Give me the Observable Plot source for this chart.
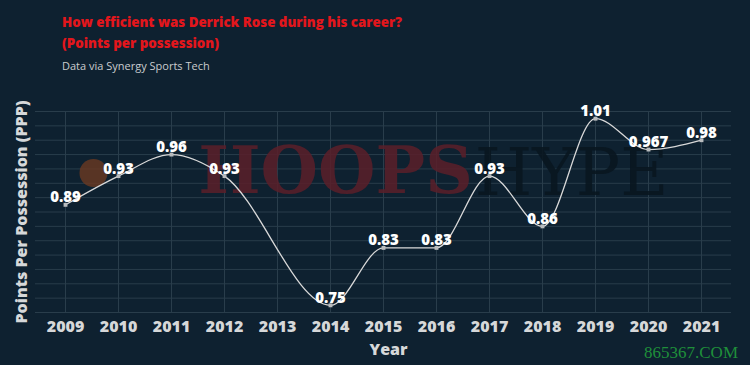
<!DOCTYPE html>
<html>
<head>
<meta charset="utf-8">
<script src="https://cdn.jsdelivr.net/npm/d3@7"></script>
<script src="https://cdn.jsdelivr.net/npm/@observablehq/plot@0.6"></script>
<style>
  html, body { margin: 0; padding: 0; background: #0e2130; }
  #wrap { position: relative; width: 750px; height: 365px; overflow: hidden; background: #0e2130; font-family: "Open Sans", sans-serif; }
  #title { position: absolute; left: 62px; top: 12px; color: #e3161c; font-weight: 800; font-size: 13.3px; line-height: 21px; }
  #subtitle { position: absolute; left: 62px; top: 58px; color: #c9ccce; font-size: 11px; line-height: 16px; }
  #chart { position: absolute; left: 0; top: 80px; }
  #wm { position: absolute; right: 12px; bottom: 2px; color: #1f8f3a; font-family: "Liberation Serif", serif; font-size: 17px; }
</style>
</head>
<body>
<div id="wrap">
  <div id="title">How efficient was Derrick Rose during his career?<br>(Points per possession)</div>
  <div id="subtitle">Data via Synergy Sports Tech</div>
  <div id="chart"></div>
  <div id="wm">865367.COM</div>
</div>
<script>
const years = [2009, 2010, 2011, 2012, 2013, 2014, 2015, 2016, 2017, 2018, 2019, 2020, 2021];
const labelYears = [2009, 2010, 2011, 2012, 2014, 2015, 2016, 2017, 2018, 2019, 2020, 2021];
const ppp = [0.89, 0.93, 0.96, 0.93, 0.75, 0.83, 0.83, 0.93, 0.86, 1.01, 0.967, 0.98];
const pppLabels = ["0.89", "0.93", "0.96", "0.93", "0.75", "0.83", "0.83", "0.93", "0.86", "1.01", "0.967", "0.98"];
const yGrid = [0.74, 0.76, 0.78, 0.80, 0.82, 0.84, 0.86, 0.88, 0.90, 0.92, 0.94, 0.96, 0.98, 1.00, 1.02];

const data = labelYears.map((y, i) => ({year: y, ppp: ppp[i], label: pppLabels[i]}));

const chart = Plot.plot({
  width: 750,
  height: 285,
  marginTop: 31,
  marginBottom: 53,
  marginLeft: 35,
  marginRight: 19,
  style: {background: "transparent", fontFamily: "Open Sans, sans-serif"},
  x: {type: "point", domain: years, padding: 0.5},
  y: {domain: [0.74, 1.02]},
  marks: [
    Plot.gridY(yGrid, {stroke: "#293d4b", strokeOpacity: 1, strokeWidth: 1}),
    Plot.gridX(years, {stroke: "#293d4b", strokeOpacity: 1, strokeWidth: 1}),
    // watermark
    Plot.dot([0], {frameAnchor: "middle", dx: -290, dy: -39, r: 14, fill: "#6b3a22", fillOpacity: 0.8}),
    Plot.text(["HOOPS"], {frameAnchor: "middle", dx: -48, dy: -40, fontSize: 66, fontWeight: "bold", fontFamily: "DejaVu Serif", fill: "#5a1f29", fillOpacity: 0.85}),
    Plot.text(["HYPE"], {frameAnchor: "middle", dx: 188, dy: -38, fontSize: 66, fontFamily: "DejaVu Serif", fill: "#091620", fillOpacity: 0.9}),
    Plot.axisX({tickSize: 0, tickPadding: 8, fontSize: 16, fontWeight: 800, color: "#d6d8d9", label: null, tickFormat: d => String(d)}),
    Plot.axisY({ticks: [], label: null, tickSize: 0}),
    Plot.text(["Year"], {frameAnchor: "bottom", dx: 5, dy: 37, fontSize: 16, fontWeight: 800, fill: "#d6d8d9", lineAnchor: "middle"}),
    Plot.text(["Points Per Possession (PPP)"], {frameAnchor: "left", dx: -14, rotate: -90, fontSize: 16, fontWeight: 800, fill: "#d6d8d9", textAnchor: "middle", lineAnchor: "middle"}),
    Plot.line(data, {x: "year", y: "ppp", curve: "monotone-x", stroke: "#d9d9d9", strokeWidth: 1.3}),
    Plot.dot(data, {x: "year", y: "ppp", symbol: "square", r: 2.2, fill: "#b9bcbe", stroke: "none"}),
    Plot.text(data, {x: "year", y: "ppp", text: "label", lineAnchor: "bottom", dy: -2.5, fontSize: 15, fontWeight: 800, fill: "#ffffff"})
  ]
});
document.getElementById("chart").appendChild(chart);
</script>
</body>
</html>
